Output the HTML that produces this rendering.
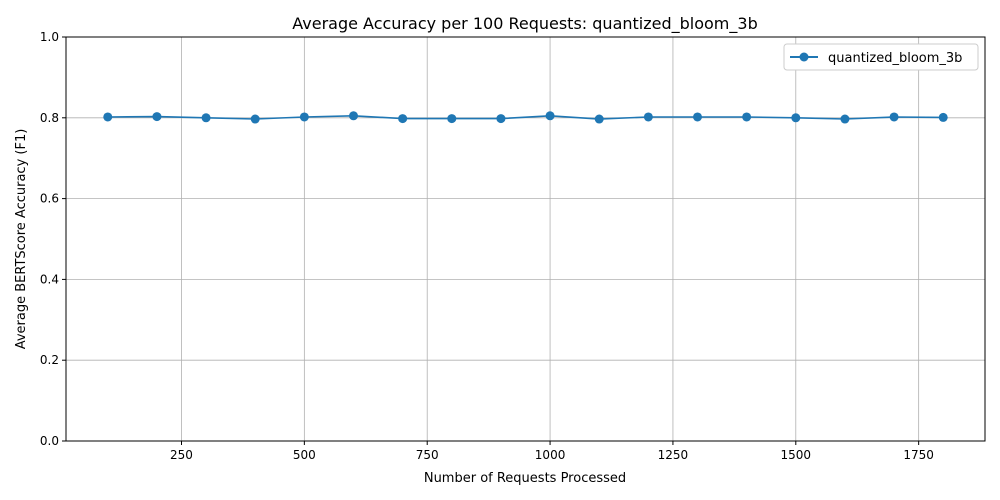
<!DOCTYPE html>
<html><head><meta charset="utf-8"><style>body{margin:0;background:#fff}svg{display:block;font-family:"DejaVu Sans","Liberation Sans",sans-serif}</style></head>
<body>
<svg id="chart" width="1000" height="500" viewBox="0 0 1000 500">
<rect width="1000" height="500" fill="#fff"/>
<g id="grid"></g><g id="axes"></g><g id="series"></g>
<text x="525" y="29" text-anchor="middle" font-size="16">Average Accuracy per 100 Requests: quantized_bloom_3b</text>
<text x="525" y="482" text-anchor="middle" font-size="13">Number of Requests Processed</text>
<text transform="translate(25,239) rotate(-90)" text-anchor="middle" font-size="13">Average BERTScore Accuracy (F1)</text>
<g>
<rect x="784" y="44" width="194" height="26" rx="3" fill="#fff" stroke="#ccc"/>
<line x1="790" y1="57" x2="818" y2="57" stroke="#1f77b4" stroke-width="2"/>
<circle cx="804" cy="57" r="4.5" fill="#1f77b4"/>
<text x="828" y="62" font-size="13">quantized_bloom_3b</text>
</g>
</svg>
<script>
const requests=[100,200,300,400,500,600,700,800,900,1000,1100,1200,1300,1400,1500,1600,1700,1800];
const accuracy=[0.802,0.803,0.800,0.797,0.802,0.805,0.798,0.798,0.798,0.805,0.797,0.802,0.802,0.802,0.800,0.797,0.802,0.801];
const xTicks=[250,500,750,1000,1250,1500,1750];
const yTicks=[0.0,0.2,0.4,0.6,0.8,1.0];
const L=66,R=985,T=37,B=441,xmin=15,xmax=1885;
const sx=v=>L+(v-xmin)/(xmax-xmin)*(R-L);
const sy=v=>B-v*(B-T);
const NS="http://www.w3.org/2000/svg";
function mk(tag,attrs,parent,txt){const e=document.createElementNS(NS,tag);for(const k in attrs)e.setAttribute(k,attrs[k]);if(txt!==undefined)e.textContent=txt;document.getElementById(parent).appendChild(e);return e;}
xTicks.forEach(t=>{const x=sx(t);
let g=mk('line',{x1:x,x2:x,y1:T,y2:B,stroke:'#b0b0b0','stroke-width':0.8},'grid');


let k=mk('line',{x1:x,x2:x,y1:B,y2:B+4,stroke:'#000'},'axes');


let l=mk('text',{x:x,y:B+18,'text-anchor':'middle','font-size':12},'axes',String(t));

});
yTicks.forEach(t=>{const y=sy(t);
let g=mk('line',{x1:L,x2:R,y1:y,y2:y,stroke:'#b0b0b0','stroke-width':0.8},'grid');


let k=mk('line',{x1:L-4,x2:L,y1:y,y2:y,stroke:'#000'},'axes');


let l=mk('text',{x:L-7,y:y+4,'text-anchor':'end','font-size':12},'axes',t.toFixed(1));

});
let fr=mk('rect',{x:L,y:T,width:R-L,height:B-T,fill:'none',stroke:'#000','stroke-width':1},'axes');


let p=mk('polyline',{points:requests.map((r,i)=>sx(r)+','+sy(accuracy[i])).join(' '),fill:'none',stroke:'#1f77b4','stroke-width':1.6},'series');


requests.forEach((r,i)=>{let c=mk('circle',{cx:sx(r),cy:sy(accuracy[i]),r:4.5,fill:'#1f77b4'},'series');

});
</script>
</body></html>
